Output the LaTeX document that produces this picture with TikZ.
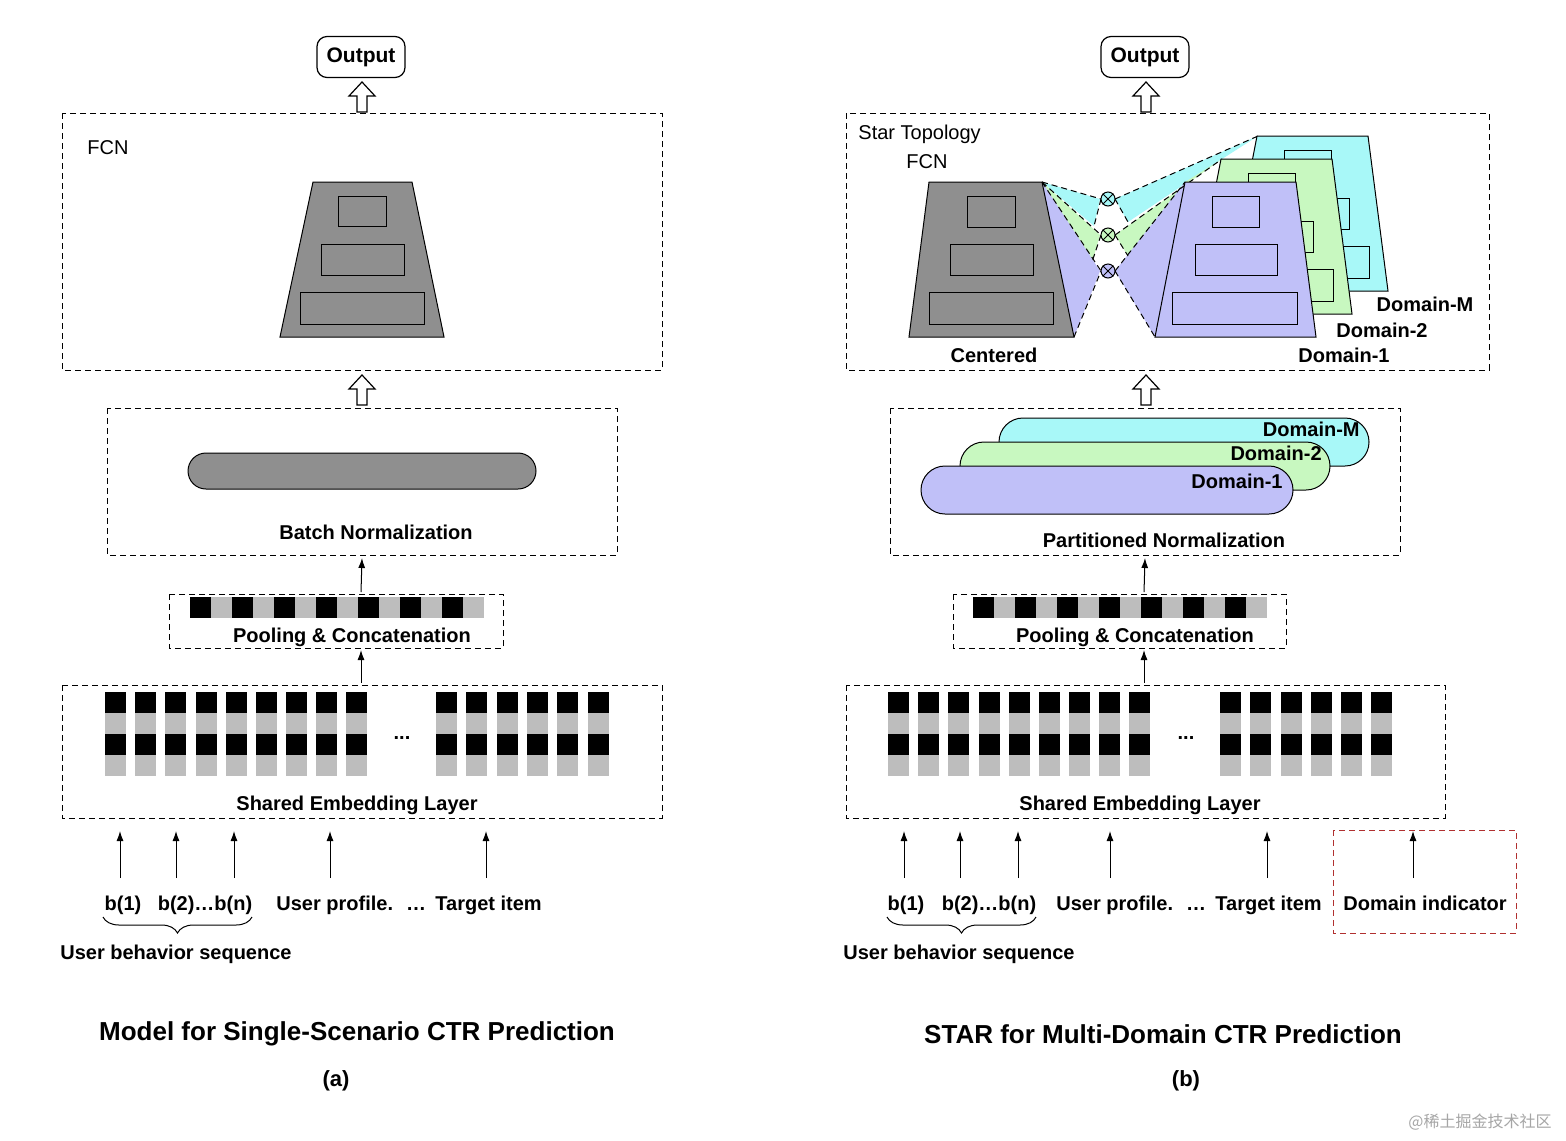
\documentclass[tikz,border=0pt]{standalone}
\usepackage{fontspec}
\setmainfont{Liberation Sans}
\newfontfamily\cjk{Noto Sans CJK SC}
\usetikzlibrary{decorations.pathreplacing,arrows.meta}
\definecolor{tgray}{HTML}{8F8F8F}
\definecolor{lgray}{HTML}{BDBDBD}
\definecolor{lav}{HTML}{C0C0F8}
\definecolor{grn}{HTML}{C8F8C0}
\definecolor{cya}{HTML}{A8F8F8}
\definecolor{dred}{HTML}{B03030}
\tikzset{
 dbox/.style={draw,dashed,line width=0.5pt,dash pattern=on 3pt off 2pt},
 lbl/.style={font=\bfseries\fontsize{10}{12}\selectfont,inner sep=0},
 ttl/.style={font=\bfseries\fontsize{13}{15}\selectfont,inner sep=0},
 arr/.style={-{Latex[length=5pt,width=3.5pt]},line width=0.5pt},
 hol/.style={draw,fill=white,line width=0.6pt},
 ibox/.style={draw,line width=0.5pt},
 wedge/.style={dashed,dash pattern=on 3pt off 2pt,line width=0.5pt},
}
\newcommand{\harrow}[3]{% x, ytop, ybottom
 \draw[hol] (#1-5,#3)--(#1-5,#2+14)--(#1-13,#2+14)--(#1,#2)--(#1+13,#2+14)--(#1+5,#2+14)--(#1+5,#3)--cycle;}
\newcommand{\bars}[2]{% x0, y0
 \foreach \i in {0,...,6}{\fill (#1+42*\i,#2) rectangle ++(21,21);
   \fill[lgray] (#1+42*\i+21,#2) rectangle ++(21,21);}}
\newcommand{\column}[1]{%
 \fill (#1,692) rectangle ++(21,21); \fill[lgray] (#1,713) rectangle ++(21,21);
 \fill (#1,734) rectangle ++(21,21); \fill[lgray] (#1,755) rectangle ++(21,21);}
\begin{document}
\begin{tikzpicture}[x=0.5pt,y=-0.5pt]
\useasboundingbox (0,0) rectangle (1566,1140);
\fill[white] (0,0) rectangle (1566,1140);
% ================= LEFT =================
\node[draw,rounded corners=5pt,line width=0.6pt,minimum width=44pt,minimum height=20.5pt,font=\bfseries\fontsize{10.5}{12}\selectfont] (outA) at (361,57) {Output};
\harrow{362}{82}{112}
\draw[dbox] (62,113) rectangle (662,370);
\node[lbl,font=\fontsize{10}{12}\selectfont,anchor=west] (fcnA) at (87,148) {FCN};
\draw[fill=tgray,line width=0.5pt] (313,182)--(412,182)--(444,337)--(280,337)--cycle;
\draw[ibox] (338,196) rectangle (386,226);
\draw[ibox] (321,244) rectangle (404,275);
\draw[ibox] (300,292) rectangle (424,324);
\harrow{362}{375}{405}
\draw[dbox] (107,408) rectangle (617,555);
\draw[fill=tgray,line width=0.5pt,rounded corners=9pt] (188,453) rectangle (536,489);
\node[lbl] (bnA) at (376,532) {Batch Normalization};
\draw[dbox] (169,594) rectangle (503,648);
\bars{190}{597}
\node[lbl] (poolA) at (352,637) {Pooling \& Concatenation};
\coordinate (pA1) at (361,592); \coordinate (pA2) at (362,558);
\draw[arr] (pA1)--(pA2);
\draw[dbox] (62,685) rectangle (662,818);
\foreach \x in {105,135,165,196,226,256,286,316,346,436,466,497,527,557,588} {\column{\x}}
\node[lbl] at (402,738) {...};
\node[lbl] (embA) at (357,805) {Shared Embedding Layer};
\coordinate (eA1) at (361,683); \coordinate (eA2) at (361,650);
\draw[arr] (eA1)--(eA2);
\foreach \x in {120,176,234,330,486}{\draw[arr] (\x,878)--(\x,831);}
\node[lbl,anchor=base] at (123,910) {b(1)};
\node[lbl,anchor=base] at (205,910) {b(2)…b(n)};
\node[lbl,anchor=base west] at (276,910) {User profile.};
\node[lbl,anchor=base] at (416,910) {…};
\node[lbl,anchor=base west] at (435,910) {Target item};
\draw[decorate,decoration={brace,amplitude=8pt},line width=0.5pt] (252,917)--(103,917);
\node[lbl] at (176,954) {User behavior sequence};
\node[ttl] at (357,1034) {Model for Single-Scenario CTR Prediction};
\node[ttl,font=\bfseries\fontsize{11}{13}\selectfont] at (336,1081) {(a)};
% ================= RIGHT =================
\node[draw,rounded corners=5pt,line width=0.6pt,minimum width=44pt,minimum height=20.5pt,font=\bfseries\fontsize{10.5}{12}\selectfont] (outB) at (1145,57) {Output};
\harrow{1146}{82}{112}
\draw[dbox] (846,113) rectangle (1489,370);
\node[lbl,font=\fontsize{10}{12}\selectfont,anchor=west] at (858,134) {Star Topology};
\node[lbl,font=\fontsize{10}{12}\selectfont] at (927,162) {FCN};
% wedges left
\fill[cya] (1042,182)--(1100,199)--(1094,226)--cycle;
\fill[grn] (1042,182)--(1100,235)--(1092,262)--cycle;
\fill[lav] (1042,182)--(1100,271)--(1074,337)--cycle;
\draw[wedge] (1042,182)--(1101,199);
\draw[wedge] (1042,182)--(1101,235);
\draw[wedge] (1042,182)--(1101,271);
\draw[wedge] (1074,337)--(1101,271);
\draw[wedge] (1101,199)--(1094,226); \draw[wedge] (1101,235)--(1092,262);
% wedges right
\fill[cya] (1115,199)--(1258,136)--(1222,159)--(1128,222)--cycle;
\fill[grn] (1115,235)--(1222,159)--(1185,182)--(1128,256)--cycle;
\fill[lav] (1115,271)--(1185,182)--(1155,337)--cycle;
\draw[wedge] (1115,199)--(1258,136); \draw[wedge] (1115,199)--(1128,222);
\draw[wedge] (1115,235)--(1222,159); \draw[wedge] (1115,235)--(1128,256);
\draw[wedge] (1115,271)--(1185,182); \draw[wedge] (1115,271)--(1155,337);
% domain trapezoids back to front
\foreach \c/\dx/\dy in {cya/72/-46, grn/36/-23, lav/0/0}{
 \begin{scope}[shift={(\dx,\dy)}]
 \draw[fill=\c,line width=0.5pt] (1185,182)--(1296,182)--(1316,337)--(1155,337)--cycle;
 \draw[ibox] (1212,196) rectangle (1259,227);
 \draw[ibox] (1195,244) rectangle (1277,275);
 \draw[ibox] (1172,292) rectangle (1297,324);
 \end{scope}}
% centered
\draw[fill=tgray,line width=0.5pt] (929,182)--(1042,182)--(1074,337)--(909,337)--cycle;
\draw[ibox] (967,196) rectangle (1015,227);
\draw[ibox] (950,244) rectangle (1033,275);
\draw[ibox] (929,292) rectangle (1053,324);
\foreach \y/\c/\n in {199/cya/oM,235/grn/o2,271/lav/o1}{
 \node[draw,circle,fill=\c,minimum size=7pt,inner sep=0,line width=0.5pt] (\n) at (1108,\y) {};
 \draw[line width=0.4pt] (\n.north west)--(\n.south east) (\n.north east)--(\n.south west);}
\node[lbl] at (994,355) {Centered};
\node[lbl] at (1344,355) {Domain-1};
\node[lbl] at (1382,330) {Domain-2};
\node[lbl] at (1425,304) {Domain-M};
\harrow{1146}{375}{405}
\draw[dbox] (890,408) rectangle (1400,555);
\draw[fill=cya,line width=0.5pt,rounded corners=12pt] (999,418) rectangle (1369,466);
\node[lbl,anchor=east] at (1360,429) {Domain-M};
\draw[fill=grn,line width=0.5pt,rounded corners=12pt] (960,442) rectangle (1330,490);
\node[lbl,anchor=east] at (1322,453) {Domain-2};
\draw[fill=lav,line width=0.5pt,rounded corners=12pt] (921,466) rectangle (1293,514);
\node[lbl,anchor=east] at (1283,481) {Domain-1};
\node[lbl] (pnB) at (1164,540) {Partitioned Normalization};
\draw[dbox] (953,594) rectangle (1286,648);
\bars{973}{597}
\node[lbl] (poolB) at (1135,637) {Pooling \& Concatenation};
\coordinate (pB1) at (1144,592); \coordinate (pB2) at (1145,558);
\draw[arr] (pB1)--(pB2);
\draw[dbox] (846,685) rectangle (1445,818);
\foreach \x in {888,918,948,979,1009,1039,1069,1099,1129,1220,1250,1281,1311,1341,1371} {\column{\x}}
\node[lbl] at (1186,738) {...};
\node[lbl] (embB) at (1140,805) {Shared Embedding Layer};
\coordinate (eB1) at (1144,683); \coordinate (eB2) at (1144,650);
\draw[arr] (eB1)--(eB2);
\foreach \x in {904,960,1018,1110,1267,1413}{\draw[arr] (\x,878)--(\x,831);}
\draw[dashed,dash pattern=on 3pt off 2pt,draw=dred,line width=0.5pt] (1333,830) rectangle (1516,933);
\node[lbl,anchor=base] at (906,910) {b(1)};
\node[lbl,anchor=base] at (989,910) {b(2)…b(n)};
\node[lbl,anchor=base west] at (1056,910) {User profile.};
\node[lbl,anchor=base] at (1196,910) {…};
\node[lbl,anchor=base west] at (1215,910) {Target item};
\node[lbl,anchor=base] at (1425,910) {Domain indicator};
\draw[decorate,decoration={brace,amplitude=8pt},line width=0.5pt] (1036,917)--(887,917);
\node[lbl] at (959,954) {User behavior sequence};
\node[ttl] at (1163,1034) {STAR for Multi-Domain CTR Prediction};
\node[ttl,font=\bfseries\fontsize{11}{13}\selectfont] at (1186,1081) {(b)};
\node[font=\cjk\fontsize{8}{10}\selectfont,text=black!35] at (1480,1122) {@稀土掘金技术社区};
\end{tikzpicture}
\end{document}
